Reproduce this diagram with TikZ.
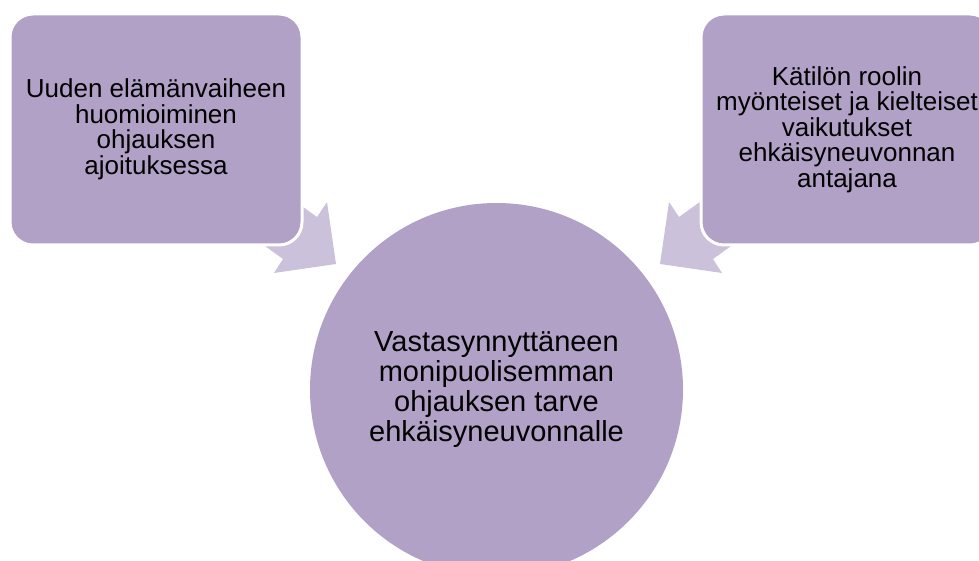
\documentclass[tikz,border=0pt]{standalone}
\usepackage{fontspec}
\setmainfont{Liberation Sans}
\definecolor{boxfill}{HTML}{B1A1C7}
\definecolor{arrowfill}{HTML}{CCC1DA}
\begin{document}
\begin{tikzpicture}[x=1pt,y=-1pt,
  box/.style={draw=white, line width=3pt, fill=boxfill, rounded corners=23pt,
    minimum width=292pt, minimum height=231pt, align=center,
    font=\fontsize{26}{25.5}\selectfont, inner sep=0pt},
  hub/.style={circle, fill=boxfill, minimum size=373pt, align=center,
    font=\fontsize{29}{30}\selectfont, inner sep=0pt},
  arrowshape/.style={fill=arrowfill, draw=none}]
\useasboundingbox (0,0) rectangle (979,561);
\clip (0,0) rectangle (979,561);
% arrows (drawn first, shaft ends hidden under boxes)
\coordinate (la1) at (260,176);
\coordinate (la2) at (317,217);
\coordinate (la3) at (327,202);
\coordinate (la4) at (336,264);
\coordinate (la5) at (274,273);
\coordinate (la6) at (283,259);
\coordinate (la7) at (226,218);
\fill[arrowshape] (la1) -- (la2) -- (la3) -- (la4) -- (la5) -- (la6) -- (la7) -- cycle;
\coordinate (ra1) at (736,176);
\coordinate (ra2) at (679,217);
\coordinate (ra3) at (669,202);
\coordinate (ra4) at (660,264);
\coordinate (ra5) at (722,273);
\coordinate (ra6) at (713,259);
\coordinate (ra7) at (770,218);
\fill[arrowshape] (ra1) -- (ra2) -- (ra3) -- (ra4) -- (ra5) -- (ra6) -- (ra7) -- cycle;
% boxes
\node[box] (left) at (156,129.5) {Uuden elämänvaiheen\\huomioiminen\\ohjauksen\\ajoituksessa};
\node[box] (right) at (847,129.5) {Kätilön roolin\\myönteiset ja kielteiset\\vaikutukset\\ehkäisyneuvonnan\\antajana};
% hub
\node[hub] (hub) at (496.5,389.5) {Vastasynnyttäneen\\monipuolisemman\\ohjauksen tarve\\ehkäisyneuvonnalle};
\end{tikzpicture}
\end{document}
